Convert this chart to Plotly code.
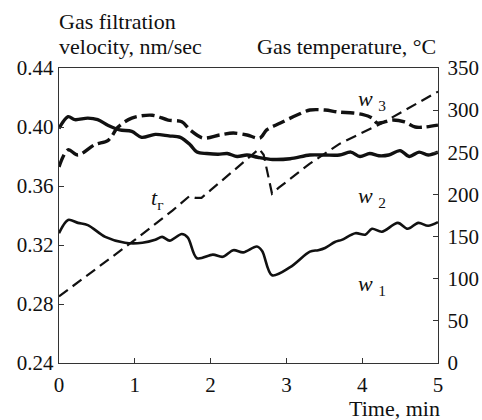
import plotly.graph_objects as go

# ---- data ----
time_w1 = [0, 0.12, 0.25, 0.38, 0.61, 0.87, 1.10, 1.27, 1.36, 1.46, 1.62, 1.70, 1.82, 2.03, 2.16,
           2.30, 2.43, 2.61, 2.68, 2.81, 3.05, 3.31, 3.42, 3.51, 3.64, 3.73, 3.91, 4.04, 4.13, 4.26,
           4.47, 4.60, 4.74, 4.87, 5.0]
w1 = [0.328, 0.337, 0.335, 0.3335, 0.3255, 0.3215, 0.3215, 0.3235, 0.3255, 0.323, 0.3275, 0.325,
      0.311, 0.3135, 0.312, 0.3165, 0.315, 0.319, 0.316, 0.2995, 0.305, 0.3155, 0.3165, 0.318,
      0.322, 0.3235, 0.328, 0.327, 0.331, 0.329, 0.335, 0.331, 0.335, 0.333, 0.3355]

time_w2 = [0, 0.12, 0.21, 0.38, 0.51, 0.65, 0.80, 0.96, 1.09, 1.27, 1.45, 1.6, 1.73, 1.82, 1.95,
           2.1, 2.22, 2.35, 2.48, 2.62, 2.82, 3.05, 3.31, 3.5, 3.7, 3.85, 3.97, 4.1, 4.22, 4.35,
           4.5, 4.62, 4.75, 4.87, 5.0]
w2 = [0.399, 0.407, 0.405, 0.406, 0.405, 0.401, 0.398, 0.397, 0.393, 0.395, 0.394, 0.393, 0.388,
      0.383, 0.382, 0.3815, 0.382, 0.380, 0.381, 0.3795, 0.378, 0.3785, 0.381, 0.381, 0.381,
      0.383, 0.380, 0.382, 0.3805, 0.381, 0.384, 0.380, 0.383, 0.381, 0.383]

time_w3 = [0, 0.12, 0.25, 0.47, 0.65, 0.78, 0.96, 1.23, 1.44, 1.62, 1.73, 1.90, 2.12, 2.30, 2.48,
           2.65, 2.74, 2.92, 3.14, 3.31, 3.51, 3.68, 3.88, 4.0, 4.13, 4.2, 4.4, 4.56, 4.70, 4.83, 5.0]
w3 = [0.373, 0.3845, 0.381, 0.388, 0.391, 0.400, 0.406, 0.408, 0.4047, 0.4035, 0.398, 0.3925,
      0.3946, 0.3959, 0.3946, 0.3925, 0.398, 0.4027, 0.4081, 0.4115, 0.4115, 0.4102, 0.4095,
      0.4085, 0.4061, 0.4027, 0.4047, 0.4034, 0.400, 0.400, 0.4013]

time_t = [0, 0.5, 1.0, 1.5, 1.66, 1.72, 1.80, 1.88, 2.0, 2.3, 2.64, 2.70, 2.81, 2.9, 3.3, 3.7, 4.27, 5.0]
temp_t = [79, 112, 146, 181, 193, 198, 196, 196, 205, 228, 254, 247, 201, 208, 236, 260, 285, 322]

x_ticks = [0, 1, 2, 3, 4, 5]
v_ticks = [0.24, 0.28, 0.32, 0.36, 0.40, 0.44]
t_ticks = [0, 50, 100, 150, 200, 250, 300, 350]

FONT = "Liberation Serif"
INK = "#111111"
TICK_SIZE = 21
TITLE_SIZE = 22

fig = go.Figure()
fig.add_trace(go.Scatter(x=time_t, y=temp_t, yaxis="y2", mode="lines",
                         line=dict(color=INK, width=2.2, dash="11px,6px"), showlegend=False))
fig.add_trace(go.Scatter(x=time_w1, y=w1, mode="lines",
                         line=dict(color=INK, width=2.6, shape="spline", smoothing=0.9),
                         showlegend=False))
fig.add_trace(go.Scatter(x=time_w2, y=w2, mode="lines",
                         line=dict(color=INK, width=3.4, shape="spline", smoothing=0.9),
                         showlegend=False))
fig.add_trace(go.Scatter(x=time_w3, y=w3, mode="lines",
                         line=dict(color=INK, width=3.4, shape="spline", smoothing=0.9,
                                   dash="13px,5px"),
                         showlegend=False))

axis_common = dict(showgrid=False, zeroline=False, showline=True, linecolor="#333333",
                   linewidth=1.4, ticks="inside", ticklen=5, tickwidth=1.2, tickcolor="#333333",
                   automargin=False,
                   tickfont=dict(family=FONT, size=TICK_SIZE, color=INK))

fig.update_layout(
    width=482, height=420,
    margin=dict(l=59, r=44, t=68, b=57),
    paper_bgcolor="white", plot_bgcolor="white",
    font=dict(family=FONT, size=TICK_SIZE, color=INK),
    xaxis=dict(range=[0, 5], tickvals=x_ticks, mirror=True, ticklabelstandoff=3, **axis_common),
    yaxis=dict(range=[0.24, 0.44], tickvals=v_ticks, tickformat=".2f", **axis_common),
    yaxis2=dict(range=[0, 350], tickvals=t_ticks, overlaying="y", side="right",
                ticklabelstandoff=4, **axis_common),
)

ann_font = dict(family=FONT, size=TITLE_SIZE, color=INK)
fig.add_annotation(text="Gas filtration", xref="paper", yref="paper", x=-0.005, y=1 + 47 / 295,
                   xanchor="left", yanchor="middle", showarrow=False, font=ann_font)
fig.add_annotation(text="velocity, nm/sec", xref="paper", yref="paper", x=-0.005, y=1 + 22 / 295,
                   xanchor="left", yanchor="middle", showarrow=False, font=ann_font)
fig.add_annotation(text="Gas temperature, °C", xref="paper", yref="paper", x=1, y=1 + 22 / 295,
                   xanchor="right", yanchor="middle", showarrow=False, font=ann_font)
fig.add_annotation(text="Time, min", xref="paper", yref="paper", x=1.01, y=-45 / 295,
                   xanchor="right", yanchor="middle", showarrow=False, font=ann_font)

labels = [("<i>w</i> <sub>3</sub>", 4.13, 0.4183),
          ("<i>w</i> <sub>2</sub>", 4.13, 0.3525),
          ("<i>w</i> <sub>1</sub>", 4.13, 0.2929),
          ("<i>t</i><sub>г</sub>", 1.29, 0.3512)]
for txt, lx, ly in labels:
    fig.add_annotation(text=txt, x=lx, y=ly, xref="x", yref="y", showarrow=False,
                       font=dict(family=FONT, size=22, color=INK))

fig.write_html("out.html")
